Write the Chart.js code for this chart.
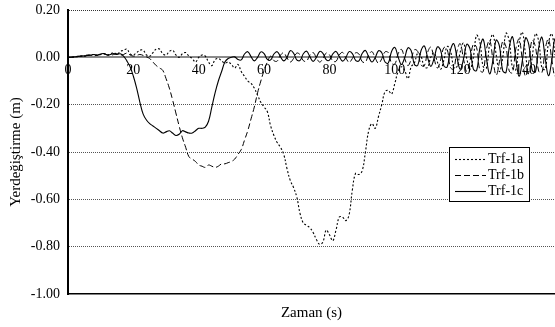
<!DOCTYPE html>
<html>
<head>
<meta charset="utf-8">
<script src="https://cdn.jsdelivr.net/npm/chart.js@4.4.1/dist/chart.umd.min.js"></script>
<style>
  body { margin: 0; background: #fff; }
  canvas { display: block; }
</style>
</head>
<body>
<canvas id="grafik" width="555" height="327"></canvas>
<script>
// --- zaman (s) ---
const zaman = [
  0,1,2,3,4,5,6,7,8,9,10,11,12,13,14,15,16,17,18,19,20,21,22,23,24,25,26,27,28,29,
  30,31,32,33,34,35,36,37,38,39,40,41,42,43,44,45,46,47,48,49,50,51,52,53,54,55,56,57,58,59,
  60,61,62,63,64,65,66,67,68,69,70,71,72,73,74,75,76,77,78,79,80,81,82,83,84,85,86,87,88,89,
  90,91,92,93,94,95,96,97,98,99,100,101,102,103,104,105,106,107,108,109,110,111,112,113,114,115,116,117,118,119,
  120,121,122,123,124,125,126,127,128,129,130,131,132,133,134,135,136,137,138,139,140,141,142,143,144,145,146,147,148,149,150
];

// --- yerdeğiştirme (m) ---
const trf1a = [
  0,0,0.002,0.003,0.005,0.005,0.008,0.010,0.012,0.008,
  0.012,0.015,0.010,0.015,0.020,0.012,0.025,0.030,0.035,0.015,
  0.010,0.020,0.030,0.030,0.010,0.005,0.020,0.035,0.035,0.015,
  0.010,0.025,0.030,0.010,0.000,0.015,0.020,0.005,-0.005,-0.020,
  0.000,0.010,0.005,-0.020,-0.035,-0.010,-0.005,-0.015,-0.025,-0.020,
  -0.030,-0.045,-0.030,-0.060,-0.080,-0.10,-0.11,-0.13,-0.16,-0.19,
  -0.21,-0.23,-0.29,-0.33,-0.36,-0.38,-0.41,-0.47,-0.52,-0.55,
  -0.59,-0.66,-0.70,-0.71,-0.72,-0.74,-0.77,-0.79,-0.78,-0.73,
  -0.75,-0.775,-0.73,-0.675,-0.675,-0.69,-0.665,-0.56,-0.49,-0.495,
  -0.48,-0.40,-0.31,-0.28,-0.30,-0.25,-0.20,-0.145,-0.14,-0.155,
  -0.11,-0.06,-0.04,-0.055,-0.09,-0.04,-0.023,0.017,0.005,-0.040,
  -0.043,0.000,0.019,-0.019,-0.050,-0.012,0.046,0.028,-0.036,-0.040,
  0.022,0.060,-0.005,-0.050,0.000,0.093,0.065,-0.038,-0.045,0.055,
  0.097,0.012,-0.060,-0.002,0.102,0.070,-0.045,-0.053,0.060,0.106,
  0.011,-0.070,-0.002,0.100,0.070,-0.045,-0.050,0.060,0.100,0.010,
  -0.065
];

const trf1b = [
  0,0,0.002,0.004,0.005,0.007,0.010,0.008,0.006,0.010,
  0.012,0.015,0.010,0.008,0.012,0.015,0.010,0.012,0.018,0.010,
  0.005,0.008,0.012,0.008,0.002,-0.005,-0.020,-0.035,-0.045,-0.055,
  -0.09,-0.13,-0.18,-0.235,-0.29,-0.34,-0.38,-0.42,-0.43,-0.44,
  -0.455,-0.46,-0.465,-0.455,-0.46,-0.465,-0.46,-0.45,-0.45,-0.445,
  -0.44,-0.43,-0.41,-0.39,-0.35,-0.31,-0.26,-0.21,-0.15,-0.10,
  -0.055,-0.020,0.005,-0.014,-0.016,0.009,0.019,-0.002,-0.020,-0.005,
  0.018,0.011,-0.014,-0.016,0.009,0.020,-0.002,-0.020,-0.005,0.018,
  0.011,-0.015,-0.017,0.010,0.021,-0.002,-0.021,-0.005,0.019,0.014,
  -0.018,-0.020,0.011,0.024,-0.003,-0.025,-0.006,0.023,0.020,-0.025,
  -0.028,0.015,0.034,-0.004,-0.035,-0.008,0.032,0.025,-0.032,-0.036,
  0.020,0.043,-0.005,-0.045,-0.011,0.041,0.034,-0.043,-0.049,0.026,
  0.058,-0.006,-0.060,-0.014,0.055,0.042,-0.054,-0.061,0.033,0.072,
  -0.008,-0.075,-0.018,0.068,0.045,-0.058,-0.065,0.035,0.077,-0.008,
  -0.080,-0.019,0.073,0.045,-0.058,-0.065,0.035,0.077,-0.008,-0.080,
  -0.019
];

const trf1c = [
  0,0.001,0.002,0.004,0.005,0.006,0.008,0.010,0.012,0.009,
  0.014,0.016,0.010,0.012,0.016,0.012,0.015,0.005,-0.015,-0.04,
  -0.08,-0.13,-0.19,-0.24,-0.265,-0.28,-0.29,-0.30,-0.31,-0.32,
  -0.315,-0.31,-0.32,-0.33,-0.325,-0.31,-0.315,-0.32,-0.32,-0.31,
  -0.30,-0.30,-0.295,-0.27,-0.21,-0.15,-0.10,-0.06,-0.02,-0.005,
  0.000,0.002,-0.009,-0.011,0.014,0.024,0.003,-0.015,0.000,0.023,
  0.016,-0.009,-0.011,0.014,0.024,0.003,-0.015,0.000,0.028,0.018,
  -0.011,-0.013,0.015,0.026,0.003,-0.017,0.000,0.025,0.017,-0.010,
  -0.012,0.014,0.025,0.003,-0.016,-0.001,0.024,0.016,-0.013,-0.015,
  0.016,0.029,0.002,-0.020,-0.001,0.028,0.019,-0.020,-0.024,0.025,
  0.042,0.002,-0.030,-0.002,0.040,0.028,-0.030,-0.034,0.028,0.048,
  0.001,-0.038,-0.005,0.044,0.030,-0.036,-0.041,0.030,0.058,0.000,
  -0.050,-0.008,0.055,0.036,-0.049,-0.056,0.038,0.077,-0.003,-0.070,
  -0.013,0.073,0.047,-0.056,-0.064,0.042,0.087,-0.004,-0.080,-0.015,
  0.082,0.053,-0.054,-0.062,0.040,0.085,-0.004,-0.078,-0.015,0.080,
  0.050
];

const seriler = ['Trf-1a', 'Trf-1b', 'Trf-1c'];
const yTicks = [0.2, 0, -0.2, -0.4, -0.6, -0.8, -1.0];
const xTicks = [0, 20, 40, 60, 80, 100, 120, 140];

const serif = '"Liberation Serif", "Times New Roman", serif';
const toPoints = arr => arr.map((v, i) => ({ x: zaman[i], y: v }));

// legend kutusu (grafik alanının içinde, sağda)
const legendBox = {
  id: 'legendBox',
  afterDraw(chart) {
    const ctx = chart.ctx;
    const left = 449, top = 147, w = 80, h = 54;
    ctx.save();
    ctx.fillStyle = '#fff';
    ctx.fillRect(left, top, w, h);
    ctx.strokeStyle = '#000';
    ctx.lineWidth = 1;
    ctx.strokeRect(left + 0.5, top + 0.5, w, h);
    ctx.font = '14px ' + serif;
    ctx.textBaseline = 'middle';
    chart.data.datasets.forEach((ds, i) => {
      const y = top + 12 + i * 16;
      ctx.setLineDash(ds.borderDash || []);
      ctx.lineWidth = ds.borderWidth;
      ctx.beginPath();
      ctx.moveTo(left + 6, y + 0.5);
      ctx.lineTo(left + 37, y + 0.5);
      ctx.stroke();
      ctx.setLineDash([]);
      ctx.fillStyle = '#000';
      ctx.fillText(ds.label, left + 39, y);
    });
    ctx.restore();
  }
};

new Chart(document.getElementById('grafik'), {
  type: 'line',
  data: {
    datasets: [
      { label: seriler[0], data: toPoints(trf1a), borderDash: [2, 2], borderWidth: 1.1 },
      { label: seriler[1], data: toPoints(trf1b), borderDash: [6, 3], borderWidth: 1 },
      { label: seriler[2], data: toPoints(trf1c), borderDash: [], borderWidth: 1.1 }
    ].map(ds => Object.assign(ds, {
      borderColor: '#000', pointRadius: 0, tension: 0.4, fill: false
    }))
  },
  options: {
    responsive: false,
    animation: false,
    layout: { padding: { top: 10, right: 0, left: 0, bottom: 0 } },
    plugins: { legend: { display: false }, tooltip: { enabled: false } },
    scales: {
      x: {
        type: 'linear',
        position: { y: 0 },
        min: 0, max: 149,
        afterBuildTicks: s => { s.ticks = xTicks.map(v => ({ value: v })); },
        grid: { display: false, drawTicks: false },
        border: { color: '#8a8a8a', width: 2 },
        ticks: { color: '#000', font: { family: serif, size: 14 }, padding: 5, maxRotation: 0 }
      },
      xb: {
        type: 'linear',
        position: 'bottom',
        min: 0, max: 149,
        grid: { display: false, drawTicks: false },
        border: { color: '#000', width: 1.5 },
        ticks: { display: false },
        title: { display: true, text: 'Zaman (s)', color: '#000',
                 font: { family: serif, size: 15, weight: 'normal' }, padding: { top: 0, bottom: 5 } },
        afterFit: s => { s.height = 33; s.paddingLeft = 0; s.paddingRight = 0; }
      },
      y: {
        min: -1.0, max: 0.2,
        afterBuildTicks: s => { s.ticks = yTicks.map(v => ({ value: v })); },
        grid: {
          drawTicks: false,
          color: c => {
            const v = c.tick ? c.tick.value : null;
            if (v === 0 || v === -1.0) return 'rgba(0,0,0,0)';
            if (v === 0.2) return '#333';
            return '#555';
          },
          lineWidth: 1
        },
        border: { color: '#000', width: 2, dash: [1, 1] },
        ticks: {
          color: '#000', font: { family: serif, size: 14 }, padding: 8,
          callback: v => v.toFixed(2)
        },
        title: { display: true, text: 'Yerdeğiştirme (m)', color: '#000',
                 font: { family: serif, size: 15, weight: 'normal' }, padding: { top: 7, bottom: 0 } },
        afterFit: s => { s.width = 68; s.paddingTop = 0; s.paddingBottom = 0; }
      }
    }
  },
  plugins: [legendBox]
});
</script>
</body>
</html>
